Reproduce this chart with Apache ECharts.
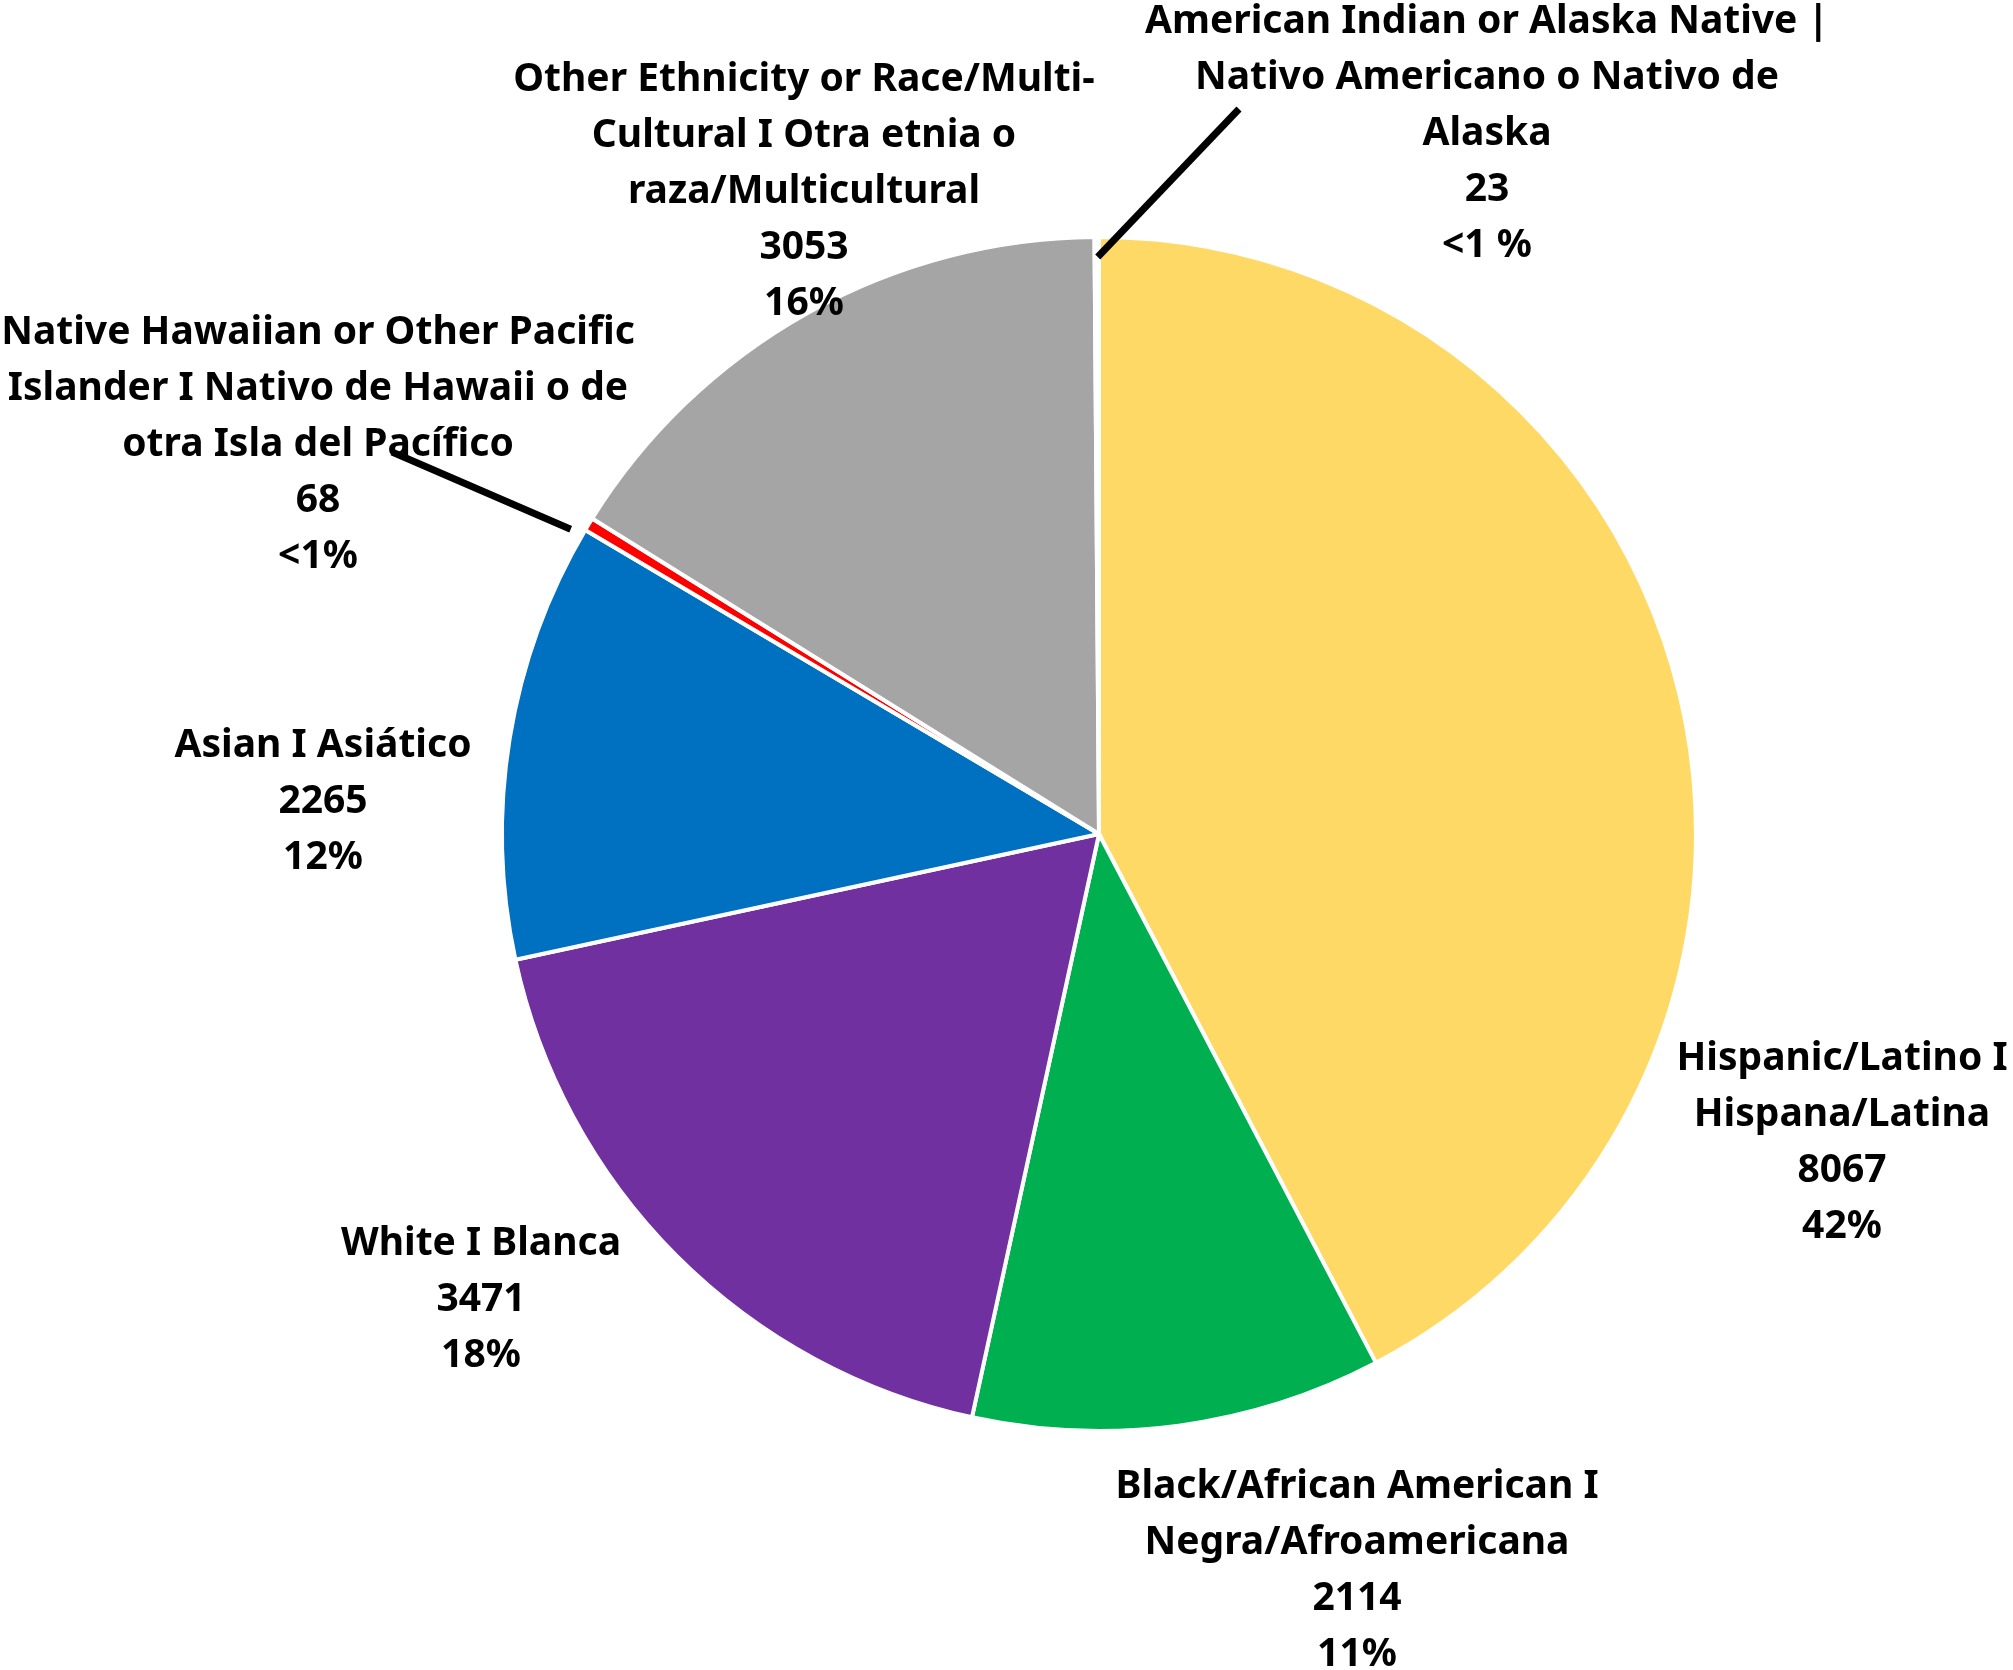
<!DOCTYPE html>
<html>
<head>
<meta charset="utf-8">
<title>Ethnicity / Race</title>
<script src="https://cdn.jsdelivr.net/npm/echarts@6/dist/echarts.min.js"></script>
<style>
  html, body { margin: 0; padding: 0; background: #fff; }
  #chart { width: 2013px; height: 1670px; }
</style>
</head>
<body>
<div id="chart"></div>
<script>
// categories, in clockwise order starting at 12 o'clock
var categories = [
  'Hispanic/Latino I\nHispana/Latina',
  'Black/African American I\nNegra/Afroamericana',
  'White I Blanca',
  'Asian I Asiático',
  'Native Hawaiian or Other Pacific\nIslander I Nativo de Hawaii o de\notra Isla del Pacífico',
  'Other Ethnicity or Race/Multi-\nCultural I Otra etnia o\nraza/Multicultural',
  'American Indian or Alaska Native |\nNativo Americano o Nativo de\nAlaska'
]
var values = [8067, 2114, 3471, 2265, 68, 3053, 23]
var percentLabels = ['42%', '11%', '18%', '12%', '<1%', '16%', '<1 %']
var colors = ['#FFD966', '#00B050', '#7030A0', '#0070C0', '#FF0000', '#A5A5A5', '#FFFFFF']

// label block centres, leader line ends, and start offset from the rim point
var labelPos = [
  [1842, 1143],
  [1357, 1571],
  [481, 1300],
  [323, 802],
  [318, 445],
  [804, 192],
  [1487, 134]
]
var leaderEnd = [null, null, null, null, [392, 452], null, [1239, 109]]
var leaderStartShift = [null, null, null, null, [-18, 5], null, [1, 20]]

var CX = 1099, CY = 834, R = 597

var total = values.reduce(function (a, b) { return a + b }, 0)

// point on the rim at the middle of slice i (clockwise from 12 o'clock)
function rimPoint(i) {
  var before = 0
  for (var k = 0; k < i; k++) before += values[k]
  var a = (before + values[i] / 2) / total * Math.PI * 2
  return [CX + R * Math.sin(a), CY - R * Math.cos(a)]
}

// leader lines sit on top of the slices, like the original
var leaders = []
leaderEnd.forEach(function (end, i) {
  if (!end) return
  var rim = rimPoint(i)
  var s = leaderStartShift[i]
  leaders.push({
    type: 'polyline',
    z: 100,
    silent: true,
    shape: { points: [[rim[0] + s[0], rim[1] + s[1]], end] },
    style: { stroke: '#000', lineWidth: 7, fill: null }
  })
})

var chart = echarts.init(document.getElementById('chart'))

chart.setOption({
  animation: false,
  backgroundColor: '#fff',
  graphic: leaders,
  series: [
    {
      type: 'pie',
      center: [CX, CY],
      radius: R,
      startAngle: 90,
      clockwise: true,
      itemStyle: {
        borderColor: '#fff',
        borderWidth: 4
      },
      label: {
        show: true,
        color: '#000',
        fontFamily: 'Noto Sans',
        fontWeight: 'bold',
        fontSize: 39,
        lineHeight: 56,
        align: 'center',
        width: 900,
        overflow: 'none',
        formatter: function (p) {
          return p.name + '\n' + p.value + '\n' + percentLabels[p.dataIndex]
        }
      },
      labelLine: { show: false },
      labelLayout: function (params) {
        var i = params.dataIndex
        return {
          x: labelPos[i][0],
          y: labelPos[i][1],
          align: 'center',
          verticalAlign: 'middle'
        }
      },
      data: categories.map(function (name, i) {
        return {
          name: name,
          value: values[i],
          itemStyle: { color: colors[i] }
        }
      })
    }
  ]
})
</script>
</body>
</html>
